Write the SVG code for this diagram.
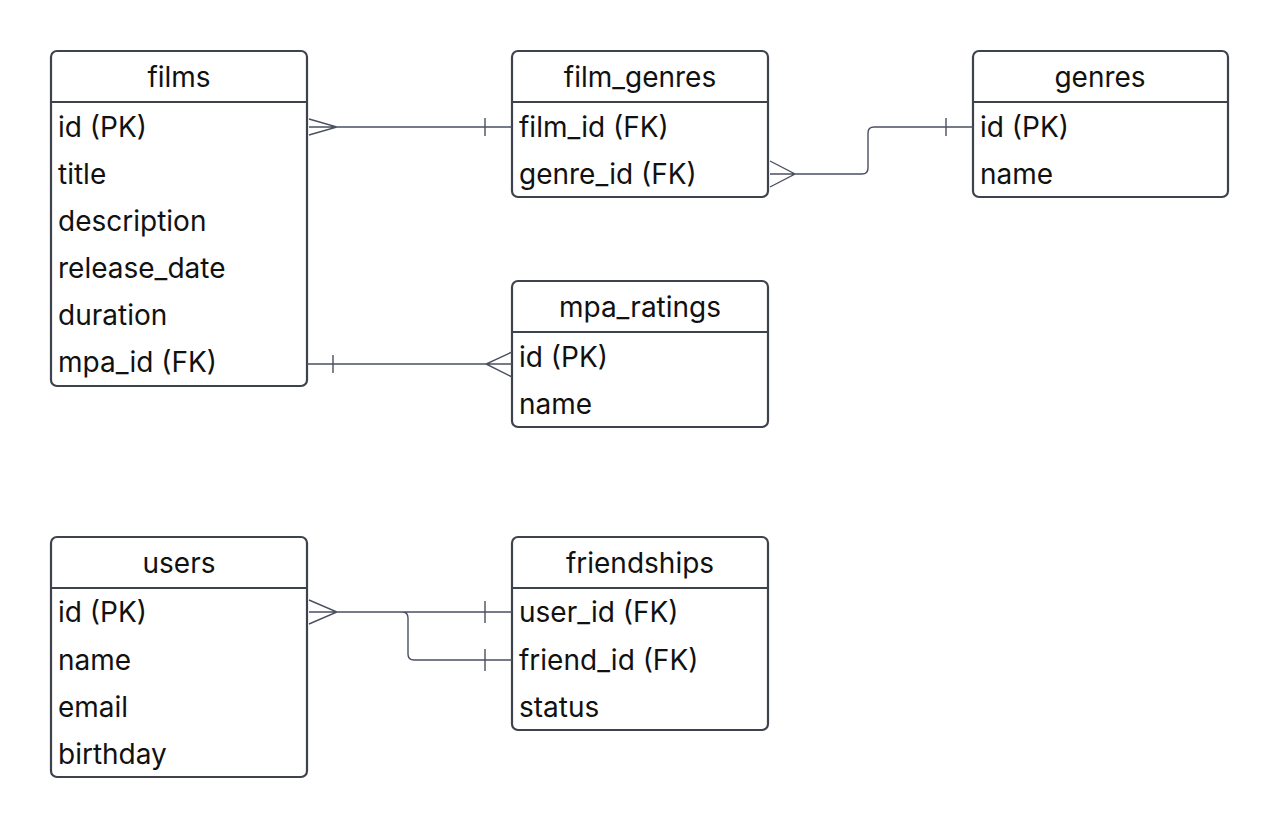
<svg xmlns="http://www.w3.org/2000/svg" width="1280" height="829" viewBox="0 0 1280 829">
<style>
.box{fill:#fff;stroke:#3d424d;stroke-width:2.2}
.sep{stroke:#3d424d;stroke-width:2}
.t{font-family:Inter,"Noto Sans",sans-serif;font-size:28px;fill:#111}
.h{text-anchor:middle}
.c{fill:none;stroke:#4a5060;stroke-width:1.4}
</style>
<rect width="1280" height="829" fill="#fff"/>
<g id="films">
<rect class="box" x="51" y="51" width="256" height="335" rx="6"/>
<line class="sep" x1="51" y1="102" x2="307" y2="102"/>
<text class="t h" x="179" y="87">films</text>
<text class="t" x="58" y="137">id (PK)</text>
<text class="t" x="58" y="184">title</text>
<text class="t" x="58" y="231">description</text>
<text class="t" x="58" y="278">release_date</text>
<text class="t" x="58" y="325">duration</text>
<text class="t" x="58" y="372">mpa_id (FK)</text>
</g>
<g id="film_genres">
<rect class="box" x="512" y="51" width="256" height="146" rx="6"/>
<line class="sep" x1="512" y1="102" x2="768" y2="102"/>
<text class="t h" x="640" y="87">film_genres</text>
<text class="t" x="519" y="137">film_id (FK)</text>
<text class="t" x="519" y="184">genre_id (FK)</text>
</g>
<g id="genres">
<rect class="box" x="973" y="51" width="255" height="146" rx="6"/>
<line class="sep" x1="973" y1="102" x2="1228" y2="102"/>
<text class="t h" x="1100" y="87">genres</text>
<text class="t" x="980" y="137">id (PK)</text>
<text class="t" x="980" y="184">name</text>
</g>
<g id="mpa_ratings">
<rect class="box" x="512" y="281" width="256" height="146" rx="6"/>
<line class="sep" x1="512" y1="332" x2="768" y2="332"/>
<text class="t h" x="640" y="317">mpa_ratings</text>
<text class="t" x="519" y="367">id (PK)</text>
<text class="t" x="519" y="414">name</text>
</g>
<g id="users">
<rect class="box" x="51" y="537" width="256" height="240" rx="6"/>
<line class="sep" x1="51" y1="588" x2="307" y2="588"/>
<text class="t h" x="179" y="573">users</text>
<text class="t" x="58" y="622">id (PK)</text>
<text class="t" x="58" y="670">name</text>
<text class="t" x="58" y="717">email</text>
<text class="t" x="58" y="764">birthday</text>
</g>
<g id="friendships">
<rect class="box" x="512" y="537" width="256" height="193" rx="6"/>
<line class="sep" x1="512" y1="588" x2="768" y2="588"/>
<text class="t h" x="640" y="573">friendships</text>
<text class="t" x="519" y="622">user_id (FK)</text>
<text class="t" x="519" y="670">friend_id (FK)</text>
<text class="t" x="519" y="717">status</text>
</g>
<g id="connectors">
<path class="c" d="M309 127H512M309 119L337 127L309 135M485 118V136"/>
<path class="c" d="M770 174H862Q868 174 868 168V133Q868 127 874 127H973M770 161L795 174L770 187M946 118V136"/>
<path class="c" d="M307 364H512M333 355V373M512 352L486 364L512 377"/>
<path class="c" d="M309 612H512M309 600L337 612L309 624M402 612Q408 612 408 618V654Q408 660 414 660H512M485 601V623M485 649V671"/>
</g>
</svg>
